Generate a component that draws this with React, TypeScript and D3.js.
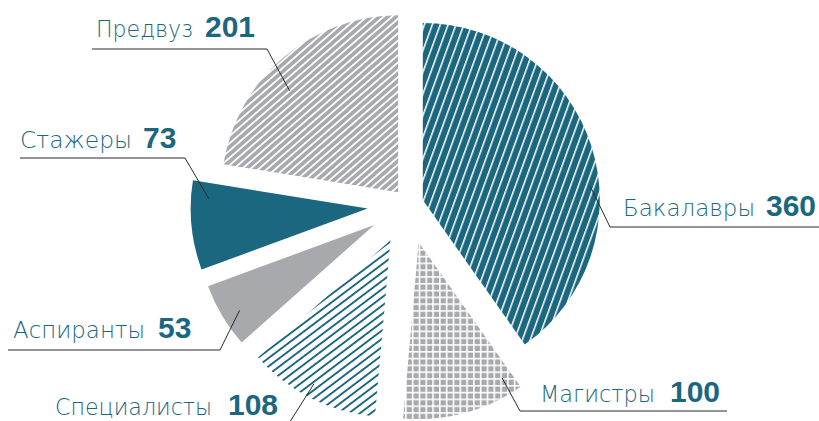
import React from "react";
import * as d3 from "d3";

// ---- data ----
const categories = ["Бакалавры", "Магистры", "Специалисты", "Аспиранты", "Стажеры", "Предвуз"];
const values = [360, 100, 108, 53, 73, 201];

// ---- style / layout ----
const W = 819;
const H = 421;
const CX = 408.5;
const CY = 204.5;
const R = 177;
const explode = [15, 39, 40, 40, 41, 16];
const fills = ["url(#pBak)", "url(#pMag)", "url(#pSpec)", "#a7a9ac", "#1b6780", "url(#pPre)"];
const TEAL = "#1b6780";
const GRAY = "#a7a9ac";
// leader anchor inside slice: fraction of slice angle, fraction of radius
const leaderF = [0.59, 0.09, 0.53, 0.43, 0.81, 0.42];
const leaderK = [0.95, 0.9, 0.92, 0.9, 0.9, 0.84];
// label layout: text x, baseline, text width, number x, underline y, underline x0, x1
const labelX = [623, 540, 55, 13, 20, 96];
const labelY = [216, 402, 415, 338, 148, 37];
const labelW = [132, 115, 157, 132, 112, 97];
const numX = [766, 670, 228, 158, 143, 205];
const lineY = [227, 411, 428, 350, 158, 49];
const lineX0 = [610, 520, 50, 8, 20, 92];
const lineX1 = [819, 727, 286, 220, 185, 267];
const bendX = [610, 520, 286, 220, 185, 267];

export default function App() {
  const pie = d3
    .pie<number>()
    .sort(null)
    .value((d) => d)
    .startAngle(0)
    .endAngle(2 * Math.PI);
  const arcs = pie(values);
  const arc = d3.arc<d3.PieArcDatum<number>>().innerRadius(0).outerRadius(R);

  return (
    <svg
      width={W}
      height={H}
      style={{ position: "absolute", left: 0, top: 0, background: "#fff" }}
    >
      <defs>
        <pattern id="pBak" width={7.4} height={7.4} patternUnits="userSpaceOnUse" patternTransform="rotate(-70)">
          <rect width={7.4} height={7.4} fill={TEAL} />
          <rect width={7.4} height={1.5} fill="#fff" />
        </pattern>
        <pattern id="pPre" width={5.5} height={5.5} patternUnits="userSpaceOnUse" patternTransform="rotate(-41)">
          <rect width={5.5} height={5.5} fill={GRAY} />
          <rect width={5.5} height={1.8} fill="#fff" />
        </pattern>
        <pattern id="pSpec" width={6.6} height={6.6} patternUnits="userSpaceOnUse" patternTransform="rotate(-37)">
          <rect width={6.6} height={6.6} fill="#fff" />
          <rect width={6.6} height={1.9} fill={TEAL} />
        </pattern>
        <pattern id="pMag" width={6.8} height={6.8} patternUnits="userSpaceOnUse">
          <rect width={6.8} height={6.8} fill="#fff" />
          <rect x={1.6} y={1.6} width={5.2} height={5.2} fill={GRAY} />
        </pattern>
      </defs>
      {arcs.map((a, i) => {
        const mid = (a.startAngle + a.endAngle) / 2;
        const ox = CX + explode[i] * Math.sin(mid);
        const oy = CY - explode[i] * Math.cos(mid);
        return (
          <path
            key={"s" + i}
            d={arc(a) || ""}
            transform={`translate(${ox},${oy})`}
            fill={fills[i]}
          />
        );
      })}
      {arcs.map((a, i) => {
        const mid = (a.startAngle + a.endAngle) / 2;
        const ox = CX + explode[i] * Math.sin(mid);
        const oy = CY - explode[i] * Math.cos(mid);
        const ang = a.startAngle + leaderF[i] * (a.endAngle - a.startAngle);
        const px = ox + R * leaderK[i] * Math.sin(ang);
        const py = oy - R * leaderK[i] * Math.cos(ang);
        const pts = `${lineX0[i]},${lineY[i]} ${lineX1[i]},${lineY[i]}`;
        return (
          <g key={"l" + i}>
            <polyline points={pts} fill="none" stroke="#2b2b2b" strokeWidth={1} />
            <line x1={bendX[i]} y1={lineY[i]} x2={px} y2={py} stroke="#2b2b2b" strokeWidth={1} />
            <text
              x={labelX[i]}
              y={labelY[i]}
              fill={TEAL}
              fontFamily="'DejaVu Sans', sans-serif"
              fontWeight={200}
              fontSize={23}
              textLength={labelW[i]}
              lengthAdjust="spacingAndGlyphs"
            >
              {categories[i]}
            </text>
            <text
              x={numX[i]}
              y={labelY[i]}
              fill={TEAL}
              fontFamily="'Liberation Sans', Arial, sans-serif"
              fontWeight="bold"
              fontSize={30}
            >
              {values[i]}
            </text>
          </g>
        );
      })}
    </svg>
  );
}
